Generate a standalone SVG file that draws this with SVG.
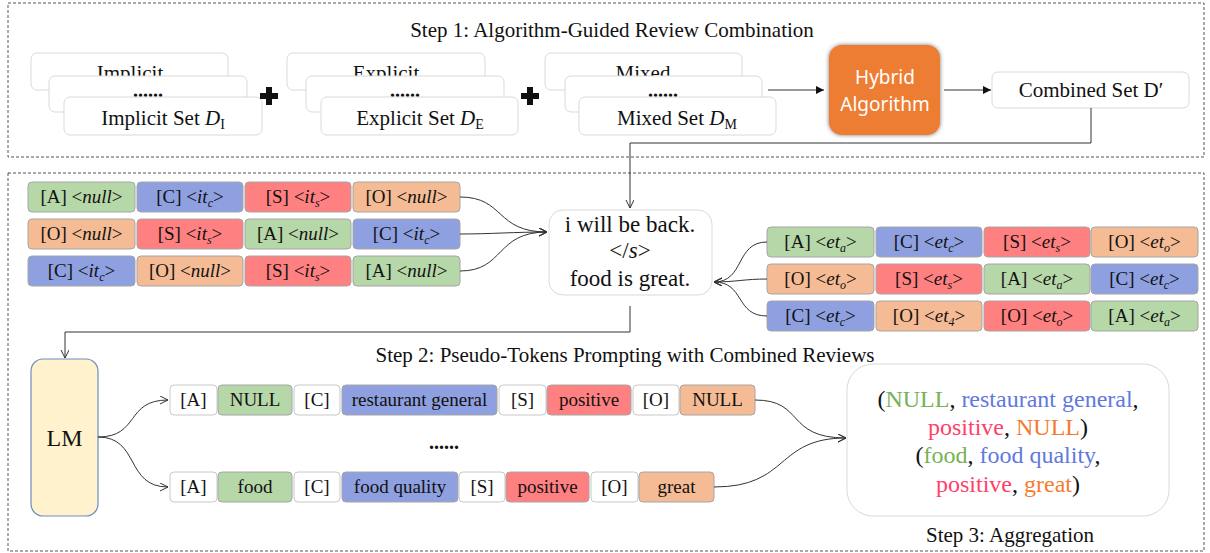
<svg xmlns="http://www.w3.org/2000/svg" width="1210" height="553" viewBox="0 0 1210 553">
<defs>
<marker id="open" markerWidth="10" markerHeight="10" refX="8" refY="4" orient="auto" markerUnits="userSpaceOnUse"><path d="M0,0 L8,4 L0,8" fill="none" stroke="#333" stroke-width="1"/></marker>
<marker id="solid" markerWidth="10" markerHeight="10" refX="8" refY="4" orient="auto" markerUnits="userSpaceOnUse"><path d="M0,0 L8,4 L0,8 Z" fill="#111"/></marker>
<filter id="glow" x="-20%" y="-20%" width="140%" height="140%"><feDropShadow dx="0" dy="0" stdDeviation="2" flood-color="#555" flood-opacity="0.8"/></filter>
</defs>
<style>
text{font-family:"Liberation Serif","Times New Roman",serif;fill:#111}
.dash{fill:none;stroke:#555;stroke-width:1;stroke-dasharray:3,2}
.card{fill:#fff;stroke:#d9d9d9;stroke-width:1}
.t{stroke:#a6a6a6;stroke-width:1}
.g{fill:#B6D7A8}.b{fill:#8EA0E0}.r{fill:#FF8080}.o{fill:#F5BB94}.w{fill:#fff;stroke:#c8c8c8}
.tt{font-size:19px;text-anchor:middle}
.i{font-style:italic}
.sub{font-style:italic;font-size:12px}
.ln{fill:none;stroke:#333;stroke-width:1}
.title{font-size:21px;text-anchor:middle}
.cg{fill:#77B255}.cb{fill:#5F79DD}.cr{fill:#FF3F6A}.co{fill:#F47C30}
.ct{font-size:21px;text-anchor:middle}
.dots{font-size:20px;font-weight:bold;text-anchor:middle}
</style>

<rect class="dash" x="8" y="3" width="1196" height="154"/>
<rect class="dash" x="8" y="173" width="1196" height="378"/>
<text class="title" x="612" y="37">Step 1: Algorithm-Guided Review Combination</text>
<text class="title" x="625" y="362">Step 2: Pseudo-Tokens Prompting with Combined Reviews</text>
<text class="title" x="1010" y="542">Step 3: Aggregation</text>

<g id="implicit">
<rect class="card" x="31" y="53" width="197" height="37" rx="6"/>
<text class="ct" x="130" y="80">Implicit</text>
<rect class="card" x="49" y="76" width="198" height="36" rx="6"/>
<text class="dots" x="148" y="97">......</text>
<rect class="card" x="64" y="97" width="198" height="38" rx="6"/>
<text class="ct" x="163" y="125">Implicit Set <tspan class="i">D</tspan><tspan font-size="14" dy="4">I</tspan></text>
</g>
<g id="plus1"><path d="M266,87 h6 v6 h6 v6 h-6 v6 h-6 v-6 h-6 v-6 h6 Z" fill="#111"/></g>
<g id="explicit">
<rect class="card" x="287" y="53" width="198" height="37" rx="6"/>
<text class="ct" x="386" y="80">Explicit</text>
<rect class="card" x="306" y="76" width="198" height="36" rx="6"/>
<text class="dots" x="405" y="97">......</text>
<rect class="card" x="321" y="97" width="197" height="38" rx="6"/>
<text class="ct" x="420" y="125">Explicit Set <tspan class="i">D</tspan><tspan font-size="14" dy="4">E</tspan></text>
</g>
<g id="plus2"><path d="M527,87 h6 v6 h6 v6 h-6 v6 h-6 v-6 h-6 v-6 h6 Z" fill="#111"/></g>
<g id="mixed">
<rect class="card" x="545" y="53" width="197" height="37" rx="6"/>
<text class="ct" x="643" y="80">Mixed</text>
<rect class="card" x="565" y="76" width="197" height="36" rx="6"/>
<text class="dots" x="663" y="97">......</text>
<rect class="card" x="579" y="97" width="197" height="38" rx="6"/>
<text class="ct" x="677" y="125">Mixed Set <tspan class="i">D</tspan><tspan font-size="14" dy="4">M</tspan></text>
</g>
<g id="hybrid">
<rect x="829" y="45" width="111" height="90" rx="13" fill="#ED7D31" filter="url(#glow)"/>
<text x="885" y="84" font-size="19" text-anchor="middle" style="font-family:'Noto Sans',sans-serif;fill:#fff">Hybrid</text>
<text x="885" y="111" font-size="19" text-anchor="middle" style="font-family:'Noto Sans',sans-serif;fill:#fff">Algorithm</text>
</g>
<g id="combined">
<rect class="card" x="992" y="72" width="197" height="36" rx="6"/>
<text class="ct" x="1091" y="97">Combined Set D′</text>
</g>

<g id="left-rows">
<rect class="t g" x="28" y="182" width="107" height="30" rx="4"/><text class="tt" x="81.5" y="203">[A] &lt;<tspan class="i">null</tspan>&gt;</text>
<rect class="t b" x="137" y="182" width="106" height="30" rx="4"/><text class="tt" x="190" y="203">[C] &lt;<tspan class="i">it</tspan><tspan class="sub" dy="4">c</tspan><tspan dy="-4">&gt;</tspan></text>
<rect class="t r" x="245" y="182" width="106" height="30" rx="4"/><text class="tt" x="298" y="203">[S] &lt;<tspan class="i">it</tspan><tspan class="sub" dy="4">s</tspan><tspan dy="-4">&gt;</tspan></text>
<rect class="t o" x="353" y="182" width="107" height="30" rx="4"/><text class="tt" x="406.5" y="203">[O] &lt;<tspan class="i">null</tspan>&gt;</text>

<rect class="t o" x="28" y="219" width="107" height="30" rx="4"/><text class="tt" x="81.5" y="240">[O] &lt;<tspan class="i">null</tspan>&gt;</text>
<rect class="t r" x="137" y="219" width="106" height="30" rx="4"/><text class="tt" x="190" y="240">[S] &lt;<tspan class="i">it</tspan><tspan class="sub" dy="4">s</tspan><tspan dy="-4">&gt;</tspan></text>
<rect class="t g" x="245" y="219" width="106" height="30" rx="4"/><text class="tt" x="298" y="240">[A] &lt;<tspan class="i">null</tspan>&gt;</text>
<rect class="t b" x="353" y="219" width="107" height="30" rx="4"/><text class="tt" x="406.5" y="240">[C] &lt;<tspan class="i">it</tspan><tspan class="sub" dy="4">c</tspan><tspan dy="-4">&gt;</tspan></text>

<rect class="t b" x="28" y="256" width="107" height="30" rx="4"/><text class="tt" x="81.5" y="277">[C] &lt;<tspan class="i">it</tspan><tspan class="sub" dy="4">c</tspan><tspan dy="-4">&gt;</tspan></text>
<rect class="t o" x="137" y="256" width="106" height="30" rx="4"/><text class="tt" x="190" y="277">[O] &lt;<tspan class="i">null</tspan>&gt;</text>
<rect class="t r" x="245" y="256" width="106" height="30" rx="4"/><text class="tt" x="298" y="277">[S] &lt;<tspan class="i">it</tspan><tspan class="sub" dy="4">s</tspan><tspan dy="-4">&gt;</tspan></text>
<rect class="t g" x="353" y="256" width="107" height="30" rx="4"/><text class="tt" x="406.5" y="277">[A] &lt;<tspan class="i">null</tspan>&gt;</text>
</g>

<g id="review">
<rect class="card" x="549" y="210" width="163" height="85" rx="14"/>
<text x="630" y="232" font-size="23" text-anchor="middle">i will be back.</text>
<text x="630" y="258" font-size="23" text-anchor="middle">&lt;/<tspan class="i">s</tspan>&gt;</text>
<text x="630" y="286" font-size="23" text-anchor="middle">food is great.</text>
</g>

<g id="right-rows">
<rect class="t g" x="767" y="227" width="107" height="30" rx="4"/><text class="tt" x="820.5" y="248">[A] &lt;<tspan class="i">et</tspan><tspan class="sub" dy="4">a</tspan><tspan dy="-4">&gt;</tspan></text>
<rect class="t b" x="876" y="227" width="106" height="30" rx="4"/><text class="tt" x="929" y="248">[C] &lt;<tspan class="i">et</tspan><tspan class="sub" dy="4">c</tspan><tspan dy="-4">&gt;</tspan></text>
<rect class="t r" x="984" y="227" width="106" height="30" rx="4"/><text class="tt" x="1037" y="248">[S] &lt;<tspan class="i">et</tspan><tspan class="sub" dy="4">s</tspan><tspan dy="-4">&gt;</tspan></text>
<rect class="t o" x="1091" y="227" width="107" height="30" rx="4"/><text class="tt" x="1144.5" y="248">[O] &lt;<tspan class="i">et</tspan><tspan class="sub" dy="4">o</tspan><tspan dy="-4">&gt;</tspan></text>

<rect class="t o" x="767" y="264" width="107" height="30" rx="4"/><text class="tt" x="820.5" y="285">[O] &lt;<tspan class="i">et</tspan><tspan class="sub" dy="4">o</tspan><tspan dy="-4">&gt;</tspan></text>
<rect class="t r" x="876" y="264" width="106" height="30" rx="4"/><text class="tt" x="929" y="285">[S] &lt;<tspan class="i">et</tspan><tspan class="sub" dy="4">s</tspan><tspan dy="-4">&gt;</tspan></text>
<rect class="t g" x="984" y="264" width="106" height="30" rx="4"/><text class="tt" x="1037" y="285">[A] &lt;<tspan class="i">et</tspan><tspan class="sub" dy="4">a</tspan><tspan dy="-4">&gt;</tspan></text>
<rect class="t b" x="1091" y="264" width="107" height="30" rx="4"/><text class="tt" x="1144.5" y="285">[C] &lt;<tspan class="i">et</tspan><tspan class="sub" dy="4">c</tspan><tspan dy="-4">&gt;</tspan></text>

<rect class="t b" x="767" y="301" width="107" height="30" rx="4"/><text class="tt" x="820.5" y="322">[C] &lt;<tspan class="i">et</tspan><tspan class="sub" dy="4">c</tspan><tspan dy="-4">&gt;</tspan></text>
<rect class="t o" x="876" y="301" width="106" height="30" rx="4"/><text class="tt" x="929" y="322">[O] &lt;<tspan class="i">et</tspan><tspan class="sub" dy="4">4</tspan><tspan dy="-4">&gt;</tspan></text>
<rect class="t r" x="984" y="301" width="106" height="30" rx="4"/><text class="tt" x="1037" y="322">[O] &lt;<tspan class="i">et</tspan><tspan class="sub" dy="4">o</tspan><tspan dy="-4">&gt;</tspan></text>
<rect class="t g" x="1091" y="301" width="107" height="30" rx="4"/><text class="tt" x="1144.5" y="322">[A] &lt;<tspan class="i">et</tspan><tspan class="sub" dy="4">a</tspan><tspan dy="-4">&gt;</tspan></text>
</g>

<g id="lm">
<rect x="31" y="359" width="67" height="157" rx="12" fill="#FFF2CC" stroke="#6C8EBF" stroke-width="1.2"/>
<text x="64.5" y="446" font-size="24" text-anchor="middle">LM</text>
</g>

<g id="output-a">
<rect class="t w" x="170" y="385" width="47" height="30" rx="4"/><text class="tt" x="193.5" y="406">[A]</text>
<rect class="t g" x="218" y="385" width="74" height="30" rx="4"/><text class="tt" x="255" y="406">NULL</text>
<rect class="t w" x="294" y="385" width="46" height="30" rx="4"/><text class="tt" x="317" y="406">[C]</text>
<rect class="t b" x="342" y="385" width="155" height="30" rx="4"/><text class="tt" x="419.5" y="406">restaurant general</text>
<rect class="t w" x="499" y="385" width="47" height="30" rx="4"/><text class="tt" x="522.5" y="406">[S]</text>
<rect class="t r" x="547" y="385" width="84" height="30" rx="4"/><text class="tt" x="589" y="406">positive</text>
<rect class="t w" x="633" y="385" width="46" height="30" rx="4"/><text class="tt" x="656" y="406">[O]</text>
<rect class="t o" x="680" y="385" width="75" height="30" rx="4"/><text class="tt" x="717.5" y="406">NULL</text>
</g>
<text class="dots" x="444" y="449">......</text>
<g id="output-b">
<rect class="t w" x="170" y="472" width="47" height="30" rx="4"/><text class="tt" x="193.5" y="493">[A]</text>
<rect class="t g" x="218" y="472" width="74" height="30" rx="4"/><text class="tt" x="255" y="493">food</text>
<rect class="t w" x="294" y="472" width="46" height="30" rx="4"/><text class="tt" x="317" y="493">[C]</text>
<rect class="t b" x="342" y="472" width="116" height="30" rx="4"/><text class="tt" x="400" y="493">food quality</text>
<rect class="t w" x="459" y="472" width="46" height="30" rx="4"/><text class="tt" x="482" y="493">[S]</text>
<rect class="t r" x="506" y="472" width="83" height="30" rx="4"/><text class="tt" x="547.5" y="493">positive</text>
<rect class="t w" x="591" y="472" width="47" height="30" rx="4"/><text class="tt" x="614.5" y="493">[O]</text>
<rect class="t o" x="639" y="472" width="75" height="30" rx="4"/><text class="tt" x="676.5" y="493">great</text>
</g>

<g id="aggregation">
<rect x="847" y="364" width="322" height="152" rx="26" fill="#fff" stroke="#d9d9d9" stroke-width="1"/>
<text x="1008" y="407" font-size="24" text-anchor="middle">(<tspan class="cg">NULL</tspan>, <tspan class="cb">restaurant general</tspan>,</text>
<text x="1008" y="435" font-size="24" text-anchor="middle"><tspan class="cr">positive</tspan>,  <tspan class="co">NULL</tspan>)</text>
<text x="1008" y="463" font-size="24" text-anchor="middle">(<tspan class="cg">food</tspan>, <tspan class="cb">food quality</tspan>,</text>
<text x="1008" y="492" font-size="24" text-anchor="middle"><tspan class="cr">positive</tspan>,  <tspan class="co">great</tspan>)</text>
</g>

<g id="connectors">
<path class="ln" d="M768,90 H824" marker-end="url(#solid)"/>
<path class="ln" d="M944,90 H991" marker-end="url(#solid)"/>
<path class="ln" d="M1091,108 V143 H630 V208" marker-end="url(#open)"/>
<path class="ln" d="M460,197 C505,197 495,232 547,232" marker-end="url(#open)"/>
<path class="ln" d="M460,234 C490,234 515,232 547,232" marker-end="url(#open)"/>
<path class="ln" d="M460,271 C505,271 495,232 547,232" marker-end="url(#open)"/>
<path class="ln" d="M767,242 C735,242 745,282 714,282" marker-end="url(#open)"/>
<path class="ln" d="M767,279 C745,279 735,282 714,282" marker-end="url(#open)"/>
<path class="ln" d="M767,316 C735,316 745,282 714,282" marker-end="url(#open)"/>
<path class="ln" d="M630,306 V332 H65 V358" marker-end="url(#open)"/>
<path class="ln" d="M98,437 C140,437 125,400 168,400" marker-end="url(#open)"/>
<path class="ln" d="M98,437 C140,437 125,487 168,487" marker-end="url(#open)"/>
<path class="ln" d="M755,400 C805,400 785,438 846,438" marker-end="url(#open)"/>
<path class="ln" d="M714,487 C790,487 775,438 846,438" marker-end="url(#open)"/>
</g>
</svg>
